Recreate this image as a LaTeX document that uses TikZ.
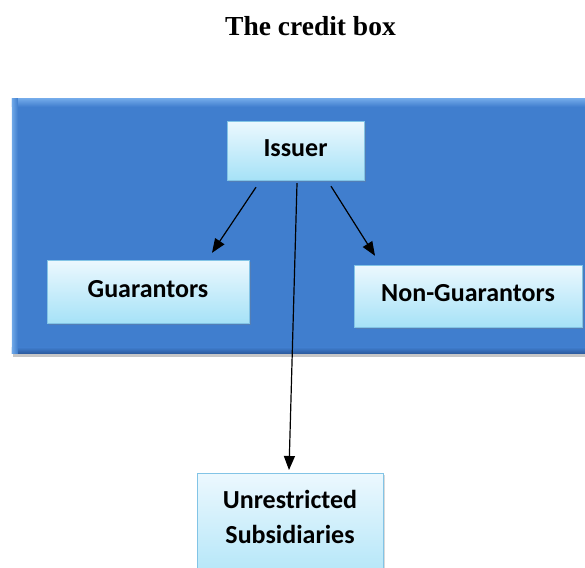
\documentclass[tikz,border=0pt]{standalone}
\usepackage{fontspec}
\setmainfont{Liberation Serif}
\newfontfamily\boxfont{Carlito}
\usetikzlibrary{arrows.meta, shadows, positioning}
\definecolor{creditblue}{RGB}{64,126,206}
\definecolor{creditlight}{RGB}{112,168,232}
\definecolor{creditdark}{RGB}{44,92,160}
\definecolor{celltop}{RGB}{236,248,254}
\definecolor{cellbot}{RGB}{166,226,247}
\definecolor{celledge}{RGB}{130,196,230}

\begin{document}
\begin{tikzpicture}[x=1pt, y=-1pt,
      cell/.style={draw=celledge, top color=celltop, bottom color=cellbot, inner sep=0pt,
        font=\boxfont\bfseries\fontsize{26}{35}\selectfont, align=center,
        drop shadow={opacity=0.3, shadow xshift=2pt, shadow yshift=-2pt}},
      onecell/.style={cell, text height=18pt, text depth=7pt},
      link/.style={-{Triangle[length=14pt, width=11pt]}, line width=1.2pt, black}]
      \useasboundingbox (0,0) rectangle (585,567);

      \node[font=\bfseries\fontsize{27.5}{30}\selectfont] (title) at (310.5,26) {The credit box};

      % the blue credit box
      \node[fill=creditblue, minimum width=588pt, minimum height=254pt, inner sep=0pt,
        drop shadow={opacity=0.45, shadow xshift=1pt, shadow yshift=-4pt}] (creditbox) at (306,226) {};
      \fill[top color=creditlight, bottom color=creditblue] (creditbox.north west) rectangle ([yshift=-8pt]creditbox.north east);
      \fill[top color=creditblue, bottom color=creditdark] ([yshift=6pt]creditbox.south west) rectangle (creditbox.south east);
      \fill[left color=creditlight, right color=creditblue] (creditbox.north west) rectangle ([xshift=6pt]creditbox.south west);

      \node[onecell, minimum width=137pt, minimum height=59pt] (issuer) at (295.5,150.5) {Issuer};
      \node[onecell, minimum width=202pt, minimum height=63pt] (guar) at (148,291.5) {Guarantors};
      \node[onecell, minimum width=228pt, minimum height=62pt] (nonguar) at (468,296) {Non-Guarantors};
      \node[cell, minimum width=186pt, inner ysep=17pt, text depth=40pt, anchor=north] (unres) at (290,473) {Unrestricted\\Subsidiaries};

      \draw[link] ([xshift=-39.5pt, yshift=-7pt]issuer.south) -- ([xshift=64pt, yshift=7pt]guar.north);
      \draw[link] ([xshift=35.5pt, yshift=-6pt]issuer.south) -- ([xshift=-93pt, yshift=9pt]nonguar.north);
      \draw[link] ([xshift=1.5pt, yshift=-3pt]issuer.south) -- ([xshift=-1pt, yshift=3pt]unres.north);
    \end{tikzpicture}
\end{document}
